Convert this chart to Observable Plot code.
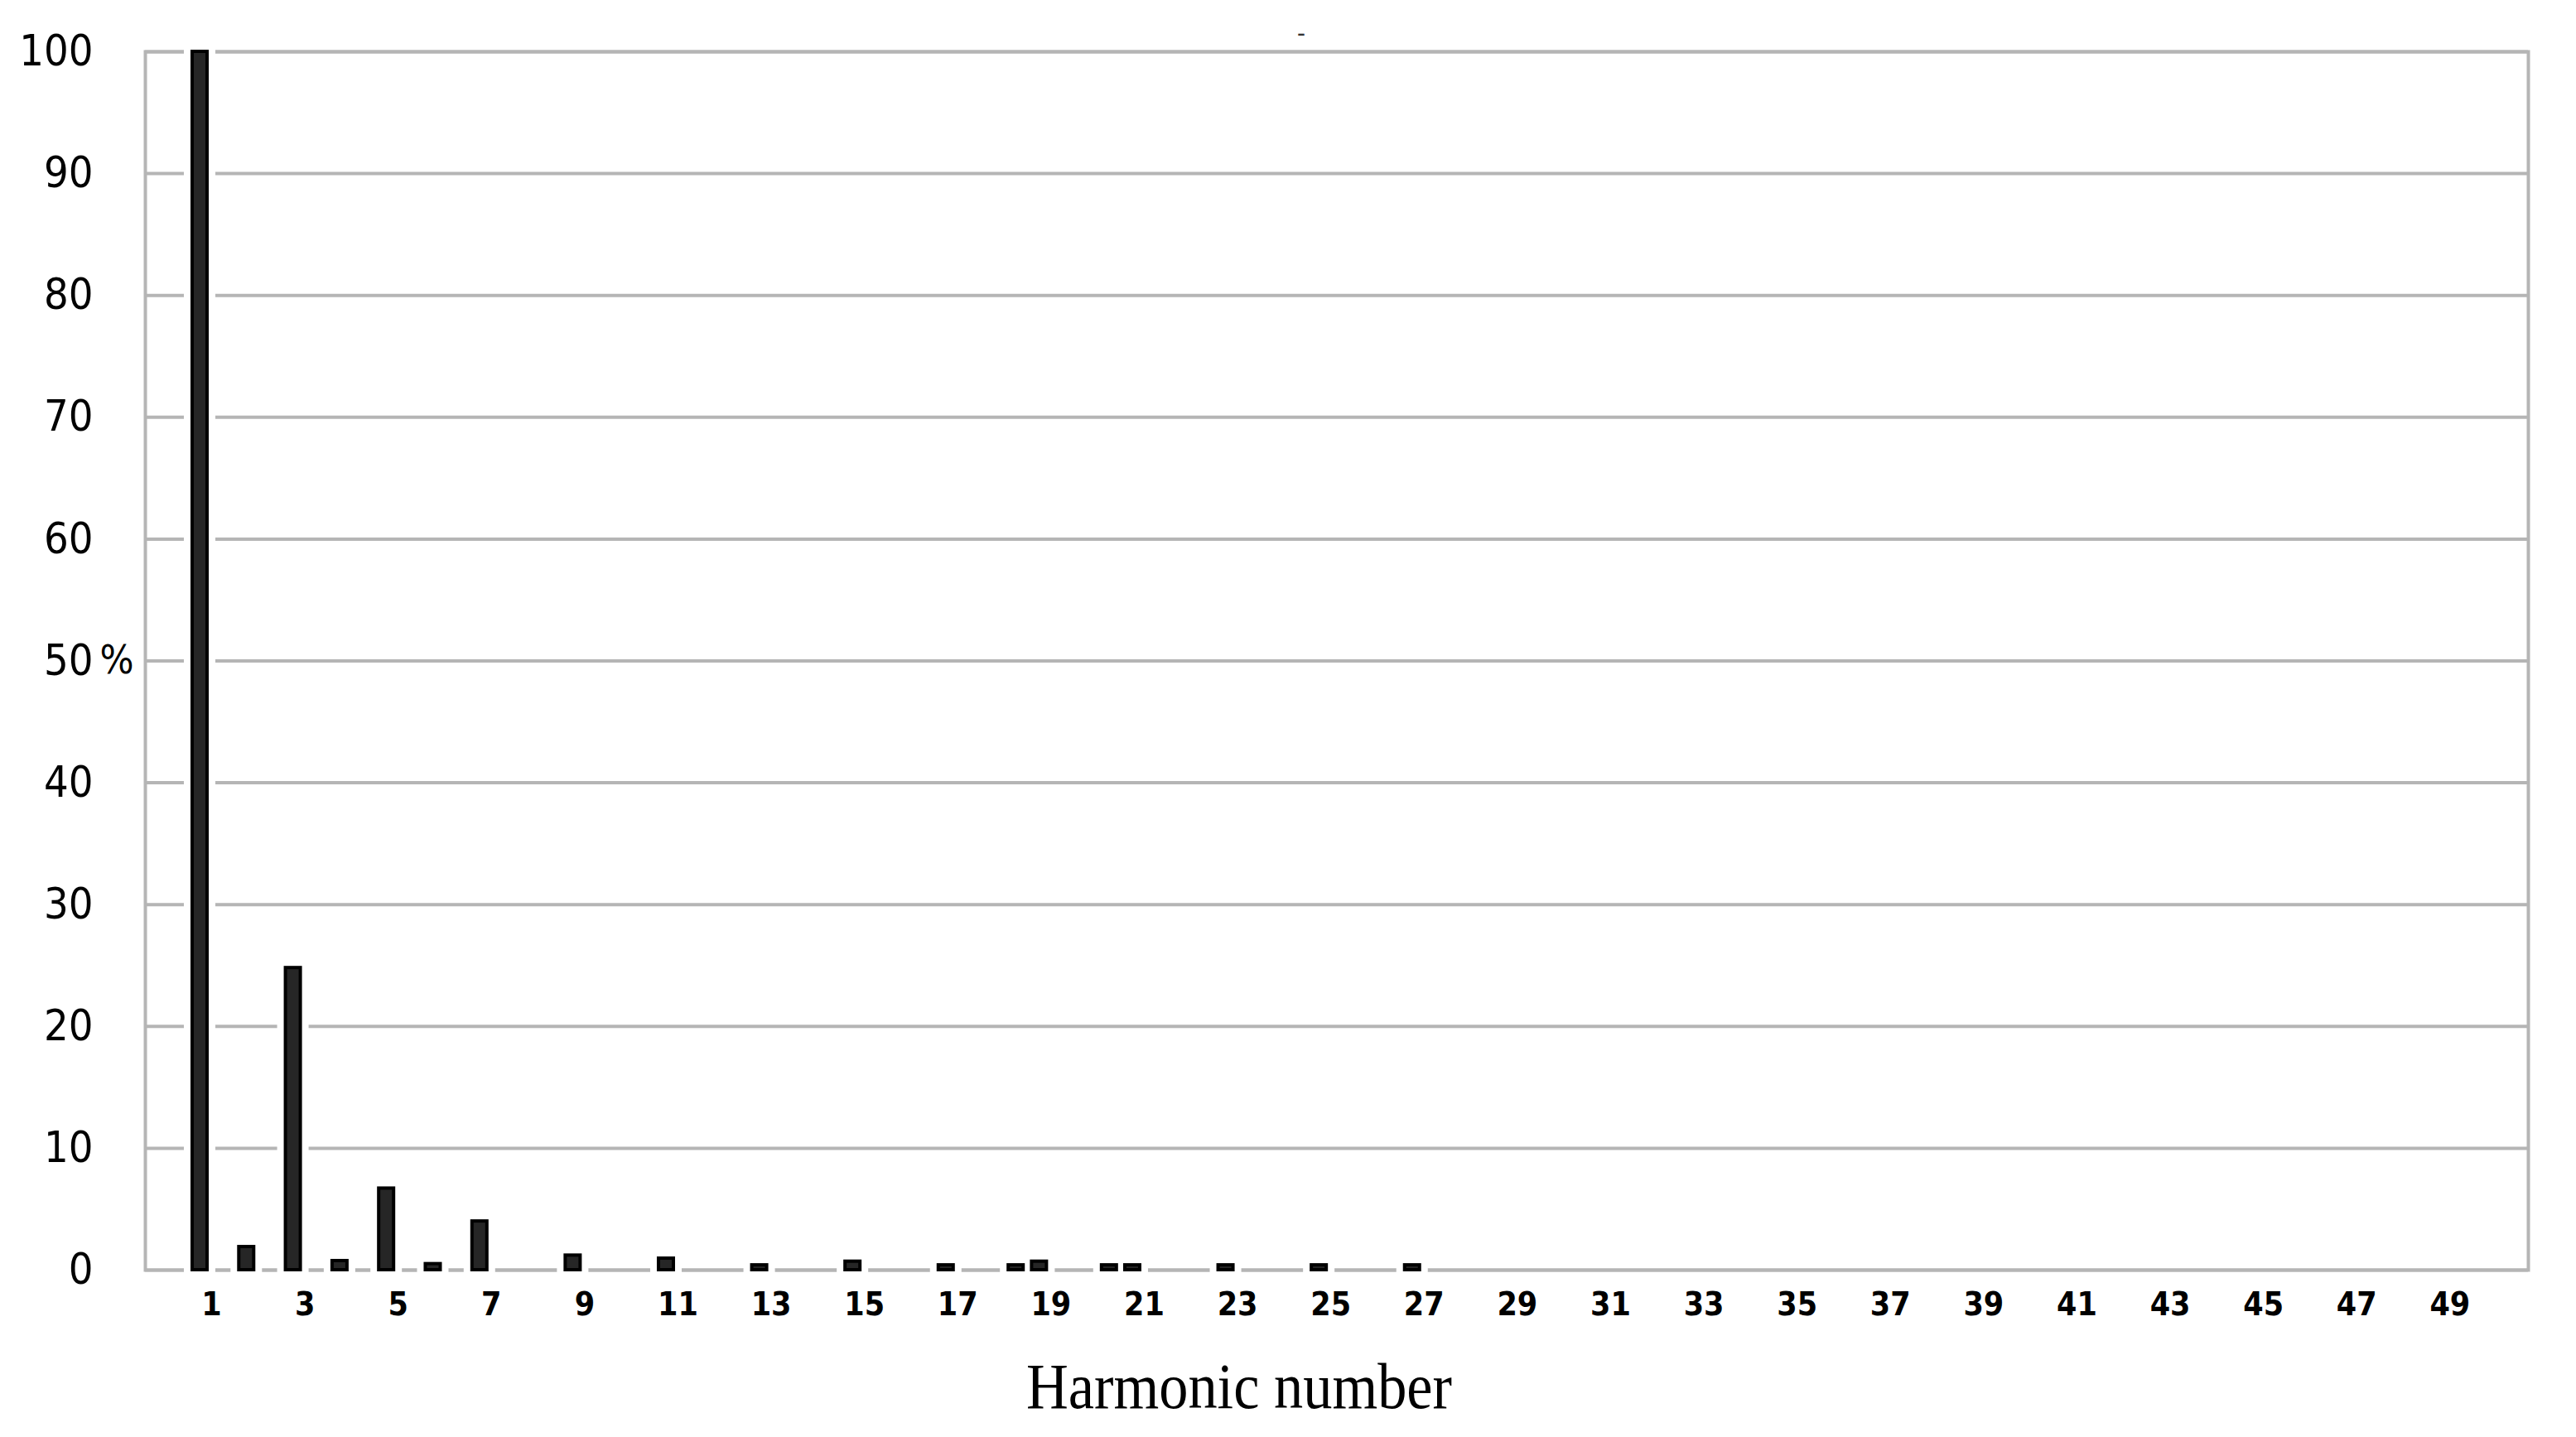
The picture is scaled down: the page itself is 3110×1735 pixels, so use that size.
<!DOCTYPE html>
<html>
<head>
<meta charset="utf-8">
<script src="https://cdn.jsdelivr.net/npm/d3@7"></script>
<script src="https://cdn.jsdelivr.net/npm/@observablehq/plot@0.6"></script>
<style>
  html, body { margin: 0; padding: 0; background: #fff; }
  #chart svg { display: block; }
</style>
</head>
<body>
<div id="chart"></div>
<script>
// Harmonic positions (bar centres on the harmonic axis)
const harmonics = [1, 2, 3, 4, 5, 6, 7, 9, 11, 13, 15, 17, 18.5, 19, 20.5, 21, 23, 25, 27];
// Amplitude in % of fundamental
const percents  = [100, 1.9, 24.8, 0.75, 6.7, 0.5, 4.0, 1.2, 0.95, 0.4, 0.7, 0.4, 0.4, 0.7, 0.4, 0.4, 0.4, 0.4, 0.4];
// Tick labels
const xTicks = [1, 3, 5, 7, 9, 11, 13, 15, 17, 19, 21, 23, 25, 27, 29, 31, 33, 35, 37, 39, 41, 43, 45, 47, 49];
const yTicks = [0, 10, 20, 30, 40, 50, 60, 70, 80, 90, 100];
const xTitle = "Harmonic number";
const yUnit = "%";

const data = harmonics.map((h, i) => ({h, p: percents[i]}));
const hw = 0.16; // half bar width in harmonic units
const narrow = "'Liberation Sans Narrow', 'Arial Narrow', 'DejaVu Sans Condensed', 'Liberation Sans', sans-serif";
const grid = "#b5b5b5";

const chart = Plot.plot({
  width: 3110,
  height: 1735,
  marginLeft: 175,
  marginRight: 58,
  marginTop: 62,
  marginBottom: 202,
  x: {domain: [-0.172, 50.93]},
  y: {domain: [0, 100]},
  marks: [
    Plot.gridY(yTicks, {stroke: grid, strokeOpacity: 1, strokeWidth: 4}),
    Plot.frame({stroke: grid, strokeWidth: 4}),
    Plot.rect(data, {x1: d => d.h - hw, x2: d => d.h + hw, y1: 0, y2: "p", fill: "white", stroke: "white", strokeWidth: 20}),
    Plot.rect(data, {x1: d => d.h - hw, x2: d => d.h + hw, y1: 0, y2: "p", fill: "#262626", stroke: "#000", strokeWidth: 4}),
    Plot.axisY(yTicks, {tickSize: 0, tickPadding: 63, fontSize: 52, fontFamily: narrow, fill: "#000", label: null}),
    Plot.axisX(xTicks, {tickSize: 0, tickPadding: 27, dx: 14, fontSize: 39, fontWeight: "bold", fontFamily: narrow, fill: "#000", label: null}),
    Plot.text([50], {y: d => d, frameAnchor: "left", textAnchor: "start", dx: -55, text: () => yUnit, fontSize: 48, fontFamily: narrow, fill: "#000"}),
    Plot.text([xTitle], {frameAnchor: "bottom", dx: -118, dy: 166, fontSize: 78, fontFamily: "'Liberation Serif', 'DejaVu Serif', serif", fill: "#000"}),
    Plot.text(["-"], {frameAnchor: "top", dx: -43, dy: -34, fontSize: 30, fontFamily: "'Liberation Sans', sans-serif", fill: "#333"})
  ]
});

d3.select(chart).selectAll("text")
  .filter(function() { return this.textContent === xTitle; })
  .attr("textLength", 514)
  .attr("lengthAdjust", "spacingAndGlyphs");

document.getElementById("chart").append(chart);
</script>
</body>
</html>
